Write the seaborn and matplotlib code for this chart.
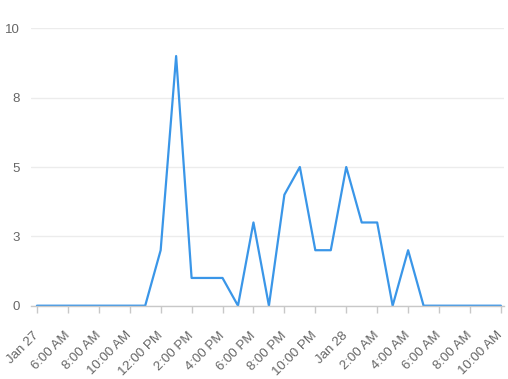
import matplotlib
matplotlib.use("Agg")
import matplotlib.pyplot as plt
import seaborn as sns
import pandas as pd
import numpy as np

# Data: hourly counts from Jan 27 4:00 AM to Jan 28 10:00 AM
start = "2024-01-27 04:00"
values = [0, 0, 0, 0, 0, 0, 0, 0,   # 4AM-11AM
          2, 9, 1, 1, 1, 0, 3, 0,   # 12PM-7PM
          4, 5, 2, 2,               # 8PM-11PM
          5, 3, 3, 0, 2, 0,         # 12AM-5AM
          0, 0, 0, 0, 0]            # 6AM-10AM
times = pd.date_range(start, periods=len(values), freq="h")

tick_labels = ["Jan 27", "6:00 AM", "8:00 AM", "10:00 AM", "12:00 PM", "2:00 PM",
               "4:00 PM", "6:00 PM", "8:00 PM", "10:00 PM", "Jan 28", "2:00 AM",
               "4:00 AM", "6:00 AM", "8:00 AM", "10:00 AM"]
tick_times = pd.date_range(start, periods=len(tick_labels), freq="2h")

y_ticks = [0, 2.5, 5, 7.5, 10]
y_labels = ["0", "3", "5", "8", "10"]

df = pd.DataFrame({"time": times, "value": values})

sns.set_theme(style="white")
plt.rcParams["font.family"] = ["Liberation Sans", "DejaVu Sans"]

fig = plt.figure(figsize=(5.08, 3.79), dpi=100)
ax = fig.add_axes([31 / 508, 1 - 305.7 / 379, (504 - 31) / 508, (305.7 - 28.3) / 379])

sns.lineplot(data=df, x="time", y="value", ax=ax, color="#3a96e8", linewidth=1.6)

ax.set_ylim(0, 10)
ax.set_xlim(times[0] - pd.Timedelta(minutes=23), times[-1] + pd.Timedelta(minutes=12))
ax.set_yticks(y_ticks)
ax.set_yticklabels(y_labels)
ax.set_xticks(tick_times)
ax.set_xticklabels(tick_labels, rotation=45, ha="right", va="center", rotation_mode="anchor")

ax.set_xlabel("")
ax.set_ylabel("")
ax.grid(axis="y", color="#ececec", linewidth=1)
ax.set_axisbelow(True)
for s in ["top", "right", "left"]:
    ax.spines[s].set_visible(False)
ax.spines["bottom"].set_color("#c8c8c8")
ax.spines["bottom"].set_linewidth(1)

ax.tick_params(axis="x", which="both", bottom=True, length=5, width=1, color="#c8c8c8",
               labelsize=9.5, labelcolor="#666666", pad=15)
ax.tick_params(axis="y", left=False, length=0, labelsize=9.5, labelcolor="#666666", pad=8)

fig.savefig("out.png", dpi=100)
